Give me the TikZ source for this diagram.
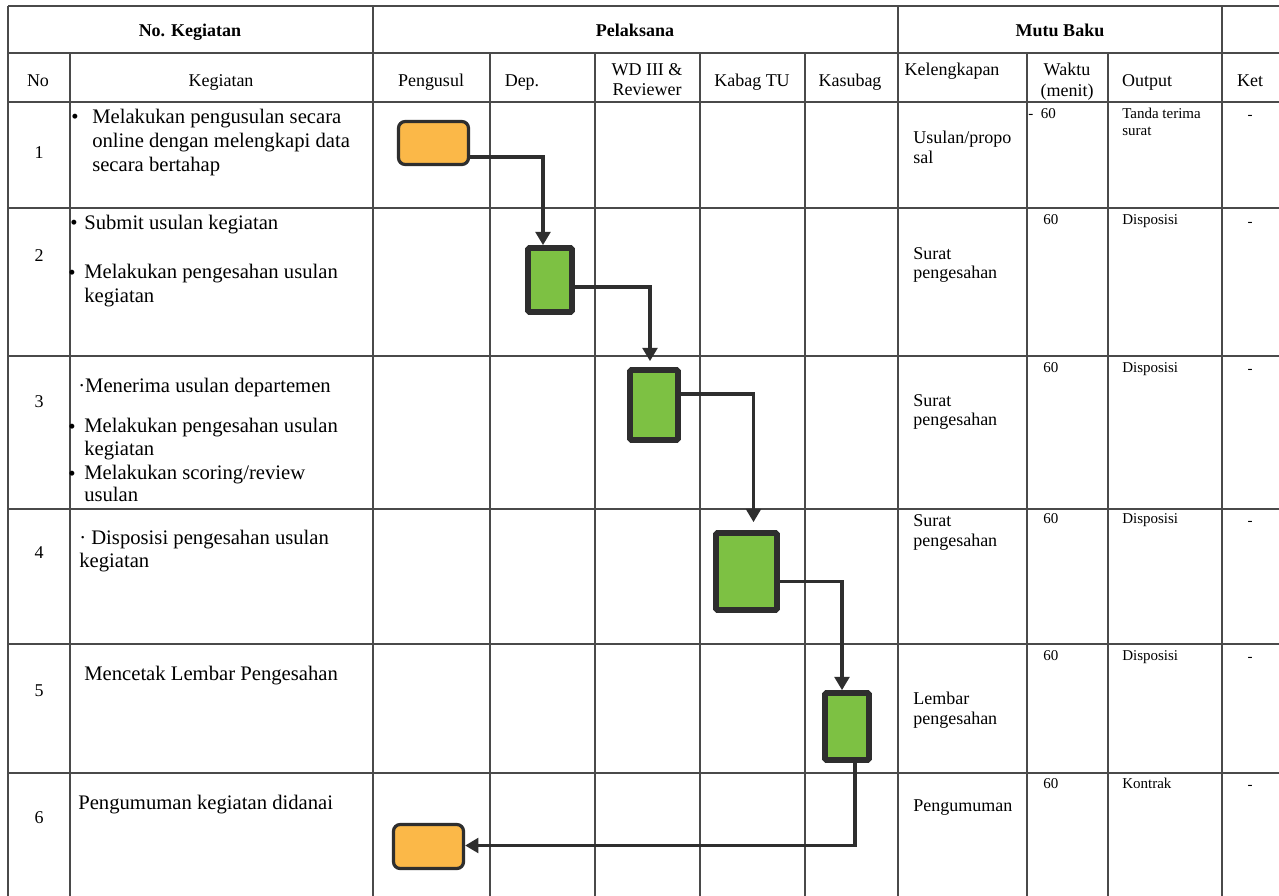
\documentclass[tikz,border=0pt]{standalone}
\usepackage{fontspec}
\setmainfont{Liberation Serif}
\usetikzlibrary{arrows.meta,calc}
\definecolor{gridc}{HTML}{4A4A4A}
\definecolor{orangef}{HTML}{FBB848}
\definecolor{greenf}{HTML}{7DC143}
\definecolor{edgec}{HTML}{2E2E2E}
\begin{document}
\begin{tikzpicture}[x=0.75pt,y=-0.75pt,
 gridline/.style={draw=gridc,line width=0.9pt},
 body/.style={anchor=base west,inner sep=0pt,font=\fontsize{15.5}{17}\selectfont},
 bul/.style={anchor=base,inner sep=0pt,font=\fontsize{15.5}{17}\selectfont},
 num/.style={anchor=base,inner sep=0pt,font=\fontsize{13.5}{15}\selectfont},
 hdb/.style={anchor=base,inner sep=0pt,font=\bfseries\fontsize{13.5}{15}\selectfont},
 hdr/.style={anchor=base,inner sep=0pt,font=\fontsize{13.5}{15}\selectfont},
 kel/.style={anchor=base west,inner sep=0pt,font=\fontsize{13.5}{15}\selectfont},
 sm/.style={anchor=base west,inner sep=0pt,font=\fontsize{11.25}{13}\selectfont},
 ket/.style={anchor=base,inner sep=0pt,font=\fontsize{11.25}{13}\selectfont},
 term/.style={rectangle,rounded corners=5pt,draw=edgec,line width=2.4pt,fill=orangef,inner sep=0pt},
 proc/.style={rectangle,draw=edgec,line width=4.2pt,fill=greenf,inner sep=0pt,rounded corners=1pt},
 flow/.style={draw=edgec,line width=2.7pt,-{Triangle[width=11pt,length=10pt]}}]
\useasboundingbox (0,0) rectangle (1279,896);
\fill[white] (0,0) rectangle (1279,896);

% grid
\foreach \yy in {6,53,102,208,356,509,644,773}
  \draw[gridline] (8,\yy) -- (1279,\yy);
\foreach \xx in {8,373,898,1222}
  \draw[gridline] (\xx,6) -- (\xx,896);
\foreach \xx in {70,490,595,700,805,1027,1108}
  \draw[gridline] (\xx,53) -- (\xx,896);

% header row 1
\node[hdb] (h1) at (190,36) {No. Kegiatan};
\node[hdb] (h2) at (635,36) {Pelaksana};
\node[hdb] (h3) at (1060,36) {Mutu Baku};
% header row 2
\node[hdr] (c1) at (38,86) {No};
\node[hdr] (c2) at (221,86) {Kegiatan};
\node[hdr] (c3) at (431,86) {Pengusul};
\node[hdr] (c4) at (522,86) {Dep.};
\node[hdr] (c5a) at (647,75) {WD III \&};
\node[hdr] (c5b) at (647,95) {Reviewer};
\node[hdr] (c6) at (752,86) {Kabag TU};
\node[hdr] (c7) at (850,86) {Kasubag};
\node[hdr] (c8) at (952,75) {Kelengkapan};
\node[hdr] (c9a) at (1067,75) {Waktu};
\node[hdr] (c9b) at (1067,96) {(menit)};
\node[hdr] (c10) at (1147,86) {Output};
\node[hdr] (c11) at (1250,86) {Ket};

% numbers
\node[num] (n1) at (39,158) {1};
\node[num] (n2) at (39,261) {2};
\node[num] (n3) at (39,407) {3};
\node[num] (n4) at (39,558) {4};
\node[num] (n5) at (39,696) {5};
\node[num] (n6) at (39,823) {6};

% kegiatan texts
\node[bul] (b1) at (75,123) {•};
\node[body] (k1a) at (92,123) {Melakukan pengusulan secara};
\node[body] (k1b) at (92,147) {online dengan melengkapi data};
\node[body] (k1c) at (92,171) {secara bertahap};
\node[bul] (b2a) at (74,229) {•};
\node[body] (k2a) at (84,229) {Submit usulan kegiatan};
\node[bul] (b2b) at (72,279) {•};
\node[body] (k2b) at (84,278) {Melakukan pengesahan usulan};
\node[body] (k2c) at (84,302) {kegiatan};
\node[body] (k3a) at (78,392) {·Menerima usulan departemen};
\node[bul] (b3a) at (72,433) {•};
\node[body] (k3b) at (84,432) {Melakukan pengesahan usulan};
\node[body] (k3c) at (84,455) {kegiatan};
\node[bul] (b3b) at (72,480) {•};
\node[body] (k3d) at (84,479) {Melakukan scoring/review};
\node[body] (k3e) at (84,501) {usulan};
\node[body] (k4a) at (79,544) {· Disposisi pengesahan usulan};
\node[body] (k4b) at (79,567) {kegiatan};
\node[body] (k5a) at (84,680) {Mencetak Lembar Pengesahan};
\node[body] (k6a) at (78,809) {Pengumuman kegiatan didanai};

% kelengkapan
\node[kel] (l1a) at (913,143) {Usulan/propo};
\node[kel] (l1b) at (913,163) {sal};
\node[kel] (l2a) at (913,259) {Surat};
\node[kel] (l2b) at (913,278) {pengesahan};
\node[kel] (l3a) at (913,406) {Surat};
\node[kel] (l3b) at (913,425) {pengesahan};
\node[kel] (l4a) at (913,526) {Surat};
\node[kel] (l4b) at (913,546) {pengesahan};
\node[kel] (l5a) at (913,704) {Lembar};
\node[kel] (l5b) at (913,724) {pengesahan};
\node[kel] (l6a) at (913,811) {Pengumuman};

% waktu
\node[sm] (w1) at (1028,118) {-~~60};
\node[sm] (w2) at (1043,224) {60};
\node[sm] (w3) at (1043,372) {60};
\node[sm] (w4) at (1043,523) {60};
\node[sm] (w5) at (1043,660) {60};
\node[sm] (w6) at (1043,788) {60};

% output
\node[sm] (o1a) at (1122,118) {Tanda terima};
\node[sm] (o1b) at (1122,135) {surat};
\node[sm] (o2t) at (1122,224) {Disposisi};
\node[sm] (o3t) at (1122,372) {Disposisi};
\node[sm] (o4t) at (1122,523) {Disposisi};
\node[sm] (o5t) at (1122,660) {Disposisi};
\node[sm] (o6t) at (1122,788) {Kontrak};

% ket
\node[ket] (e1) at (1250,119) {-};
\node[ket] (e2) at (1250,226) {-};
\node[ket] (e3) at (1250,373) {-};
\node[ket] (e4) at (1250,525) {-};
\node[ket] (e5) at (1250,661) {-};
\node[ket] (e6) at (1250,789) {-};

% flow shapes
\node[term,minimum width=52.5pt,minimum height=32.25pt] (s1) at (433.5,143) {};
\node[proc,minimum width=33pt,minimum height=48pt] (s2) at (550,280) {};
\node[proc,minimum width=36pt,minimum height=52.5pt] (s3) at (654,405) {};
\node[proc,minimum width=45.75pt,minimum height=57.75pt] (s4) at (746.5,571.5) {};
\node[proc,minimum width=33pt,minimum height=50.25pt] (s5) at (847,726.5) {};
\node[term,minimum width=52.5pt,minimum height=33pt] (s6) at (428.5,846.5) {};

% connectors
\draw[flow] ($(s1.east)+(0,14)$) -| ($(s2.north)+(-7,0)$);
\draw[flow] ($(s2.east)+(0,7)$) -| ($(s3.north)+(-4,-6)$);
\draw[flow] ($(s3.east)+(0,-11)$) -| ($(s4.north)+(7,-8)$);
\draw[flow] ($(s4.east)+(0,10)$) -| ($(s5.north)+(-5,0)$);
\draw[flow] ($(s5.south)+(8,0)$) |- ($(s6.east)+(0,-1)$);
\end{tikzpicture}
\end{document}
